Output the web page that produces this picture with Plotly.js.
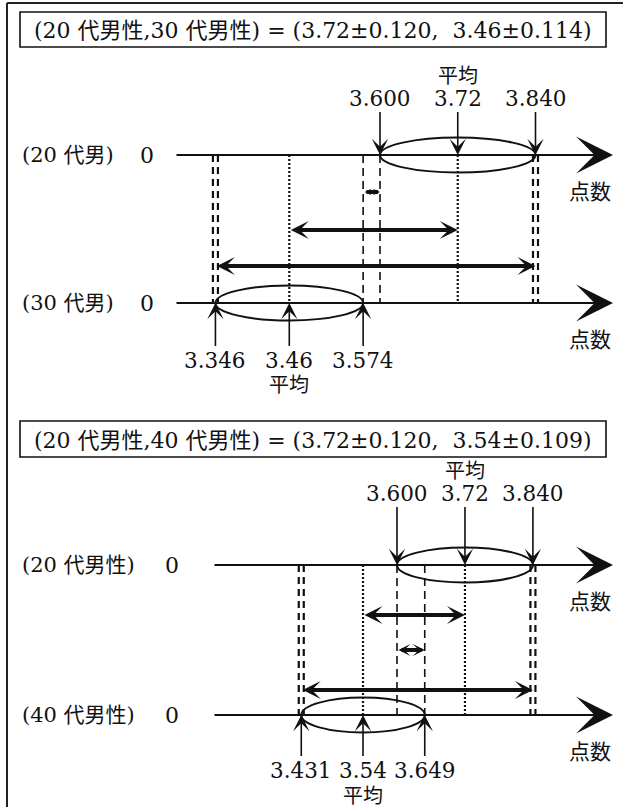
<!DOCTYPE html>
<html><head><meta charset="utf-8">
<script src="https://cdn.plot.ly/plotly-3.0.1.min.js"></script>
<style>html,body{margin:0;padding:0;background:#fff}</style>
</head><body><div id="chart" style="width:624px;height:807px"></div>
<script>
// ---------------- data ----------------
const panelTitles = ['(20 代男性,30 代男性) = (3.72±0.120,  3.46±0.114)',
                     '(20 代男性,40 代男性) = (3.72±0.120,  3.54±0.109)'];
const rowLabels = [['(20 代男)', '(30 代男)'], ['(20 代男性)', '(40 代男性)']];
const zeroLabel = '0';
const axisLabel = '点数';
const meanLabel = '平均';
// [lower, mean, upper]
const group20 = [3.600, 3.72, 3.840];
const group30 = [3.346, 3.46, 3.574];
const group40 = [3.431, 3.54, 3.649];
const tickText20 = ['3.600', '3.72', '3.840'];
const tickText30 = ['3.346', '3.46', '3.574'];
const tickText40 = ['3.431', '3.54', '3.649'];

// ---------------- layout helpers ----------------
const W = 624, H = 807;
const px = v => v / W;
const FONT = '"DejaVu Serif", "Noto Sans CJK JP", serif';
const INK = '#111';
const RANGES = {x: [3.0135, 3.9766], x2: [2.8991, 4.0008]};
const shapes = [], annotations = [], traces = [];

function vline(xa, v, y0, y1, kind) {
  if (kind === 'double') {
    [-2.5, 2.5].forEach(o => shapes.push({type: 'line', xref: xa, yref: 'y', xsizemode: 'pixel', xanchor: v,
      x0: o, x1: o, y0: y0, y1: y1, line: {color: INK, width: 2.2, dash: '7px,5px'}}));
  } else if (kind === 'dot') {
    shapes.push({type: 'line', xref: xa, yref: 'y', x0: v, x1: v, y0: y0, y1: y1,
      line: {color: INK, width: 2.2, dash: '2px,2px'}});
  } else {
    shapes.push({type: 'line', xref: xa, yref: 'y', x0: v, x1: v, y0: y0, y1: y1,
      line: {color: INK, width: 1.6, dash: '8px,5px'}});
  }
}
function text(x, y, t, size, anchor) {
  annotations.push({xref: 'paper', yref: 'y', x: px(x), y: y, text: t, showarrow: false,
    xanchor: anchor || 'center', yanchor: 'middle', font: {family: FONT, size: size || 21, color: INK}});
}
function axisArrow(x0, x1, y) {
  annotations.push({xref: 'paper', yref: 'y', x: px(x1), y: y, axref: 'pixel', ayref: 'pixel',
    ax: -(x1 - x0), ay: 0, text: '', showarrow: true, arrowhead: 3, arrowsize: 2.8, arrowwidth: 2.2,
    arrowcolor: INK, standoff: 0});
}
function labelArrow(xa, v, lab, rowY, labY) {
  annotations.push({xref: xa, yref: 'y', x: v, y: rowY, axref: xa, ayref: 'y', ax: v, ay: labY,
    text: lab, showarrow: true, arrowhead: 3, arrowsize: 1.7, arrowwidth: 1.6, arrowcolor: INK,
    standoff: 0, font: {family: FONT, size: 21.5, color: INK}});
}
function spanArrow(xa, a, b, y) {
  const r = RANGES[xa];
  const lenPx = Math.abs(b - a) * W / (r[1] - r[0]);
  const hs = Math.max(0.3, Math.min(0.75, lenPx / 56));
  annotations.push({xref: xa, yref: 'y', x: b, y: y, axref: xa, ayref: 'y', ax: a, ay: y,
    text: '', showarrow: true, arrowside: 'end+start', arrowhead: 3, startarrowhead: 3,
    arrowsize: hs, startarrowsize: hs, arrowwidth: 4, arrowcolor: INK, standoff: 0, startstandoff: 0});
}
function ellipse(xa, g, y) {
  shapes.push({type: 'circle', xref: xa, yref: 'y', x0: g[0], x1: g[2], y0: y - 17.5, y1: y + 17.5,
    line: {color: INK, width: 2}});
}

function panel(cfg) {
  const xa = cfg.xa, A = cfg.groupA, B = cfg.groupB;
  // title box
  shapes.push({type: 'rect', xref: 'paper', yref: 'y', x0: px(20), x1: px(606), y0: cfg.box[0], y1: cfg.box[1],
    line: {color: INK, width: 1.6}});
  text(313, (cfg.box[0] + cfg.box[1]) / 2 + 1, cfg.title, 22);
  // row labels, zeros, axes
  [cfg.rowA, cfg.rowB].forEach((ry, i) => {
    text(20, ry, cfg.labels[i], 21, 'left');
    text(cfg.zeroX, ry, zeroLabel, 22);
    axisArrow(cfg.axisStart, 613, ry);
    text(590, ry + 37, axisLabel, 21);
  });
  // guide lines between the two axes
  cfg.guides.forEach(g => vline(xa, g[0], cfg.rowA, cfg.rowB, g[1]));
  // ellipses
  ellipse(xa, A, cfg.rowA);
  ellipse(xa, B, cfg.rowB);
  // labelled arrows
  A.forEach((v, i) => labelArrow(xa, v, cfg.textA[i], cfg.rowA, cfg.labAY));
  B.forEach((v, i) => labelArrow(xa, v, cfg.textB[i], cfg.rowB, cfg.labBY));
  annotations.push({xref: xa, yref: 'y', x: A[1], y: cfg.meanAY, text: meanLabel, showarrow: false,
    font: {family: FONT, size: 20, color: INK}});
  annotations.push({xref: xa, yref: 'y', x: B[1], y: cfg.meanBY, text: meanLabel, showarrow: false,
    font: {family: FONT, size: 20, color: INK}});
  // distance arrows
  cfg.spans.forEach((s, i) => spanArrow(xa, s[0], s[1], cfg.spanY[i]));
  traces.push({type: 'scatter', mode: 'markers', xaxis: xa, yaxis: 'y', x: A.concat(B),
    y: [cfg.rowA, cfg.rowA, cfg.rowA, cfg.rowB, cfg.rowB, cfg.rowB], marker: {opacity: 0}, hoverinfo: 'skip'});
}

panel({xa: 'x', title: panelTitles[0], labels: rowLabels[0], box: [12, 47], rowA: 155, rowB: 303,
  axisStart: 175, zeroX: 147, groupA: group20, groupB: group30, textA: tickText20, textB: tickText30,
  labAY: 98, labBY: 360, meanAY: 76, meanBY: 385,
  guides: [[group30[0], 'double'], [group20[2], 'double'], [group30[1], 'dot'], [group30[2], 'dash'],
           [group20[0], 'dash'], [group20[1], 'dot']],
  spans: [[group30[2], group20[0]], [group30[1], group20[1]], [group30[0], group20[2]]],
  spanY: [192, 230, 266]});

panel({xa: 'x2', title: panelTitles[1], labels: rowLabels[1], box: [421, 457], rowA: 565, rowB: 715,
  axisStart: 213, zeroX: 172, groupA: group20, groupB: group40, textA: tickText20, textB: tickText40,
  labAY: 493, labBY: 770, meanAY: 471, meanBY: 796,
  guides: [[group40[0], 'double'], [group20[2], 'double'], [group40[1], 'dot'], [group20[0], 'dash'],
           [group40[2], 'dash'], [group20[1], 'dot']],
  spans: [[group40[1], group20[1]], [group20[0], group40[2]], [group40[0], group20[2]]],
  spanY: [615, 650, 690]});

// outer frame (top and left edges)
shapes.push({type: 'line', xref: 'paper', yref: 'y', x0: px(7), x1: px(623), y0: 3, y1: 3, line: {color: '#222', width: 2}});
shapes.push({type: 'line', xref: 'paper', yref: 'y', x0: px(7), x1: px(7), y0: 3, y1: 807, line: {color: '#222', width: 2}});

const layout = {
  width: W, height: H, margin: {l: 0, r: 0, t: 0, b: 0}, showlegend: false,
  paper_bgcolor: '#fff', plot_bgcolor: '#fff',
  xaxis: {range: RANGES.x, visible: false, fixedrange: true},
  xaxis2: {range: RANGES.x2, visible: false, overlaying: 'x', anchor: 'y', fixedrange: true},
  yaxis: {range: [H, 0], visible: false, fixedrange: true},
  shapes: shapes, annotations: annotations
};
Plotly.newPlot('chart', traces, layout, {staticPlot: true});
</script></body></html>
